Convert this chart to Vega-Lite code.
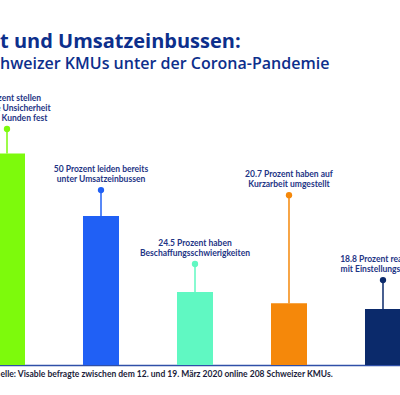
{
  "$schema": "https://vega.github.io/schema/vega-lite/v6.json",
  "width": 400,
  "height": 295,
  "autosize": {"type": "none"},
  "padding": {"top": 70, "left": 0, "right": 0, "bottom": 30},
  "background": "white",
  "title": {
    "text": "t und Umsatzeinbussen:",
    "subtitle": "hweizer KMUs unter der Corona-Pandemie",
    "anchor": "start",
    "frame": "group",
    "offset": -2,
    "font": "Open Sans",
    "fontSize": 20,
    "fontWeight": "bold",
    "color": "#0d2f8c",
    "subtitleFont": "Open Sans",
    "subtitleFontSize": 16,
    "subtitleFontWeight": 600,
    "subtitleColor": "#0d2f8c",
    "subtitlePadding": 4
  },
  "config": {"view": {"stroke": null}},
  "data": {
    "values": [
      {"key": "Unsicherheit", "value": 71, "anchor": 79.2, "text": "71 Prozent stellen\neine hohe Unsicherheit\nbei ihren Kunden fest"},
      {"key": "Umsatzeinbussen", "value": 50, "anchor": 58.7, "text": "50 Prozent leiden bereits\nunter Umsatzeinbussen"},
      {"key": "Beschaffung", "value": 24.5, "anchor": 33.9, "text": "24.5 Prozent haben\nBeschaffungsschwierigkeiten"},
      {"key": "Kurzarbeit", "value": 20.7, "anchor": 57.0, "text": "20.7 Prozent haben auf\nKurzarbeit umgestellt"},
      {"key": "Einstellungsstopp", "value": 18.8, "anchor": 28.5, "text": "18.8 Prozent reagieren\nmit Einstellungsstopps"}
    ]
  },
  "encoding": {
    "x": {
      "field": "key",
      "type": "nominal",
      "sort": null,
      "scale": {"range": [-11, 401], "paddingInner": 0.617, "paddingOuter": 0},
      "axis": {
        "labels": false,
        "ticks": false,
        "grid": false,
        "domainColor": "#2f4fa8",
        "domainWidth": 1.5,
        "title": "elle: Visable befragte zwischen dem 12. und 19. März 2020 online 208 Schweizer KMUs.",
        "titleFont": "Lato",
        "titleFontSize": 8.5,
        "titleFontWeight": "bold",
        "titleColor": "#1b1d3a",
        "titleAnchor": "start",
        "titleAlign": "left",
        "titleBaseline": "alphabetic",
        "titleX": 0,
        "titleY": 11
      }
    },
    "color": {
      "field": "key",
      "type": "nominal",
      "sort": null,
      "legend": null,
      "scale": {"range": ["#7dfa0c", "#2060f5", "#60f8c2", "#f5880a", "#0b2a6b"]}
    }
  },
  "layer": [
    {
      "mark": {"type": "bar"},
      "encoding": {
        "y": {"field": "value", "type": "quantitative", "axis": null, "scale": {"domain": [0, 99], "nice": false}}
      }
    },
    {
      "mark": {"type": "rule", "strokeWidth": 1.5},
      "encoding": {
        "y": {"field": "value", "type": "quantitative", "axis": null, "scale": {"domain": [0, 99], "nice": false}},
        "y2": {"field": "anchor"}
      }
    },
    {
      "mark": {"type": "point", "filled": true, "size": 40, "opacity": 1},
      "encoding": {
        "y": {"field": "anchor", "type": "quantitative", "axis": null, "scale": {"domain": [0, 99], "nice": false}}
      }
    },
    {
      "transform": [{"filter": "datum.key !== 'Unsicherheit'"}],
      "mark": {"type": "text", "font": "Lato", "fontSize": 8.5, "fontWeight": "bold", "baseline": "top", "dy": -25, "lineBreak": "\n", "lineHeight": 10, "align": "center"},
      "encoding": {
        "y": {"field": "anchor", "type": "quantitative", "axis": null, "scale": {"domain": [0, 99], "nice": false}},
        "text": {"field": "text"},
        "color": {"value": "#1e3585"}
      }
    },
    {
      "transform": [{"filter": "datum.key === 'Unsicherheit'"}],
      "mark": {"type": "text", "font": "Lato", "fontSize": 8.5, "fontWeight": "bold", "baseline": "top", "dy": -35, "lineBreak": "\n", "lineHeight": 10, "align": "center"},
      "encoding": {
        "y": {"field": "anchor", "type": "quantitative", "axis": null, "scale": {"domain": [0, 99], "nice": false}},
        "text": {"field": "text"},
        "color": {"value": "#1e3585"}
      }
    }
  ]
}
